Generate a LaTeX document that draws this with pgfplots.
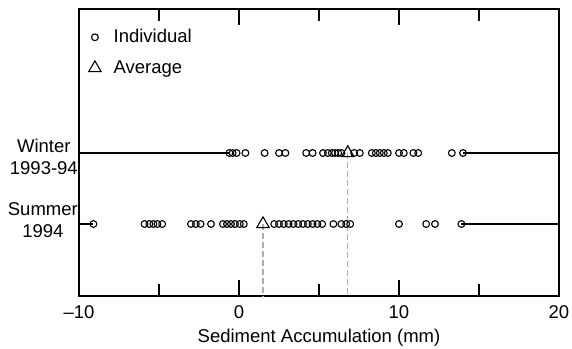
\documentclass[border=0pt]{standalone}
\usepackage{fontspec}
\setmainfont{Liberation Sans}
\usepackage{pgfplots}
\pgfplotsset{compat=1.18}
\usepackage{pgfplotstable}

% Individual measurements, winter 1993-94 (row y = 2)
\pgfplotstableread{
x y
-0.6 2
-0.4 2
-0.15 2
0.4 2
1.6 2
2.5 2
2.9 2
4.2 2
4.6 2
5.25 2
5.55 2
5.8 2
6.0 2
6.2 2
6.4 2
7.2 2
7.55 2
8.3 2
8.55 2
8.8 2
9.05 2
9.3 2
10.0 2
10.3 2
10.9 2
11.2 2
13.3 2
14.0 2
}\winter

% Individual measurements, summer 1994 (row y = 1)
\pgfplotstableread{
x y
-9.1 1
-5.9 1
-5.6 1
-5.35 1
-5.1 1
-4.8 1
-3.0 1
-2.7 1
-2.4 1
-1.75 1
-1.0 1
-0.75 1
-0.5 1
-0.25 1
0.05 1
0.3 1
2.2 1
2.5 1
2.8 1
3.1 1
3.4 1
3.7 1
4.0 1
4.3 1
4.6 1
4.9 1
5.2 1
5.9 1
6.4 1
6.7 1
6.95 1
10.0 1
11.7 1
12.25 1
13.9 1
}\summer

% Seasonal averages
\pgfplotstableread{
x y
1.5 1
6.8 2
}\average

\begin{document}
\fontsize{18.5bp}{22bp}\selectfont
\begin{tikzpicture}
\begin{axis}[
  scale only axis,
  width=480bp, height=287bp,
  xmin=-10, xmax=20,
  ymin=-0.014, ymax=4.028,
  axis line style={line width=1.2bp},
  xtick={-10,0,10,20},
  xticklabels={--10,0,10,20},
  minor x tick num=1,
  major tick length=16bp,
  minor tick length=12bp,
  tick style={black, line width=1.2bp},
  ytick={1.056,1.944},
  yticklabels={{Summer\\1994},{Winter\\1993-94}},
  ytick style={draw=none},
  yticklabel style={align=center, inner xsep=1bp},
  xticklabel style={yshift=-3bp},
  xlabel={Sediment Accumulation (mm)},
  xlabel style={yshift=2bp},
  legend style={at={(axis description cs:0,1)}, anchor=north west,
    xshift=6.5bp, yshift=-16bp, column sep=5bp,
    draw=none, fill=none, row sep=11bp, nodes={inner xsep=7.5bp}},
  legend cell align=left,
]
% legend entries
\addlegendimage{only marks, mark=o, mark size=3.4bp, mark options={line width=1.1bp, fill=white}}
\addlegendentry{Individual}
\addlegendimage{only marks, mark=triangle, mark size=7.2bp, mark options={line width=1.1bp, fill=white}}
\addlegendentry{Average}

% inward tick strokes on the bottom and top edges
\pgfplotsinvokeforeach{0,10}{
  \draw[black, line width=1.2bp] (axis cs:#1,-0.014) -- ++(0bp,16bp);
  \draw[black, line width=1.2bp] (axis cs:#1,4.028) -- ++(0bp,-16bp);
}
\pgfplotsinvokeforeach{-5,5,15}{
  \draw[black, line width=1.2bp] (axis cs:#1,-0.014) -- ++(0bp,12bp);
  \draw[black, line width=1.2bp] (axis cs:#1,4.028) -- ++(0bp,-12bp);
}

% row lines out to the frame
\addplot[forget plot, black, line width=1.2bp] coordinates {(-10,2) (-0.6,2)};
\addplot[forget plot, black, line width=1.2bp] coordinates {(14.0,2) (20,2)};
\addplot[forget plot, black, line width=1.2bp] coordinates {(-10,1) (-9.1,1)};
\addplot[forget plot, black, line width=1.2bp] coordinates {(13.9,1) (20,1)};

% drop lines from the averages to the x axis
\addplot[forget plot, black!32, line width=1.2bp, dash pattern=on 6bp off 3bp] coordinates {(6.8,2) (6.8,-0.1)};
\addplot[forget plot, black!32, line width=1.2bp, dash pattern=on 6bp off 3bp] coordinates {(1.5,1) (1.5,-0.1)};

% individual points
\addplot[forget plot, only marks, mark=o, mark size=3.4bp, mark options={line width=1.1bp, fill=white}] table {\winter};
\addplot[forget plot, only marks, mark=o, mark size=3.4bp, mark options={line width=1.1bp, fill=white}] table {\summer};

% averages
\addplot[forget plot, only marks, mark=triangle, mark size=7.2bp, mark options={line width=1.1bp, fill=white}] table {\average};
\end{axis}
\pgfresetboundingbox
\path[use as bounding box] ([xshift=-79bp,yshift=-53bp]current axis.south west) rectangle ([xshift=13bp,yshift=9bp]current axis.north east);
\end{tikzpicture}
\end{document}
